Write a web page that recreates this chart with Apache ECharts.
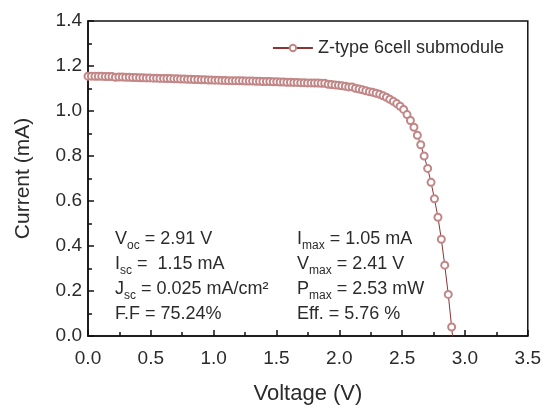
<!DOCTYPE html>
<html>
<head>
<meta charset="utf-8">
<script src="https://cdn.jsdelivr.net/npm/echarts@6/dist/echarts.min.js"></script>
<style>
  html, body { margin: 0; padding: 0; background: #fff; }
  #chart { width: 544px; height: 410px; }
</style>
</head>
<body>
<div id="chart"></div>
<script>
// measured I-V points (voltage in V, current in mA)
const voltage = [
  0.000, 0.027, 0.055, 0.082, 0.109, 0.137, 0.164, 0.191, 0.218, 0.246,
  0.273, 0.300, 0.328, 0.355, 0.382, 0.410, 0.437, 0.464, 0.491, 0.519,
  0.546, 0.573, 0.601, 0.628, 0.655, 0.683, 0.710, 0.737, 0.764, 0.792,
  0.819, 0.846, 0.874, 0.901, 0.928, 0.956, 0.983, 1.010, 1.037, 1.065,
  1.092, 1.119, 1.147, 1.174, 1.201, 1.229, 1.256, 1.283, 1.310, 1.338,
  1.365, 1.392, 1.420, 1.447, 1.474, 1.502, 1.529, 1.556, 1.583, 1.611,
  1.638, 1.665, 1.693, 1.720, 1.747, 1.775, 1.802, 1.829, 1.856, 1.884,
  1.911, 1.938, 1.966, 1.993, 2.020, 2.048, 2.075, 2.102, 2.129, 2.157,
  2.184, 2.211, 2.239, 2.266, 2.293, 2.321, 2.348, 2.375, 2.402, 2.430,
  2.457, 2.484, 2.512, 2.539, 2.566, 2.594, 2.621, 2.648, 2.675, 2.703,
  2.730, 2.757, 2.785, 2.812, 2.839, 2.867, 2.894, 2.921
];
const current = [
  1.155, 1.155, 1.154, 1.154, 1.154, 1.153, 1.153, 1.153, 1.150, 1.151,
  1.151, 1.150, 1.150, 1.149, 1.149, 1.148, 1.148, 1.147, 1.147, 1.146,
  1.146, 1.145, 1.145, 1.144, 1.144, 1.143, 1.143, 1.142, 1.142, 1.141,
  1.141, 1.140, 1.140, 1.139, 1.139, 1.138, 1.138, 1.137, 1.137, 1.136,
  1.136, 1.135, 1.135, 1.135, 1.134, 1.134, 1.133, 1.133, 1.133, 1.132,
  1.132, 1.131, 1.131, 1.131, 1.130, 1.130, 1.129, 1.129, 1.128, 1.128,
  1.127, 1.127, 1.126, 1.126, 1.125, 1.125, 1.124, 1.124, 1.123, 1.123,
  1.119, 1.118, 1.116, 1.114, 1.112, 1.110, 1.107, 1.107, 1.101, 1.098,
  1.094, 1.090, 1.086, 1.083, 1.079, 1.074, 1.068, 1.061, 1.052, 1.043,
  1.033, 1.021, 1.007, 0.984, 0.958, 0.928, 0.892, 0.850, 0.800, 0.745,
  0.683, 0.610, 0.528, 0.430, 0.315, 0.185, 0.040, -0.110
];
const seriesName = 'Z-type 6cell submodule';

// parameter text, left and right columns
const leftNotes = [
  ['V', 'oc', ' = 2.91 V'],
  ['I', 'sc', ' =  1.15 mA'],
  ['J', 'sc', ' = 0.025 mA/cm²'],
  ['F.F = 75.24%', '', '']
];
const rightNotes = [
  ['I', 'max', ' = 1.05 mA'],
  ['V', 'max', ' = 2.41 V'],
  ['P', 'max', ' = 2.53 mW'],
  ['Eff. = 5.76 %', '', '']
];

const FONT = 'Liberation Sans, Arial, sans-serif';
const TXT = '#2b2b2b';

const noteText = (n) => '{n|' + n[0] + '}' + (n[1] ? '{s|' + n[1] + '}' : '') + (n[2] ? '{n|' + n[2] + '}' : '');
const noteRows = [242, 267, 292, 317];
const notes = [];
leftNotes.forEach((n, i) => notes.push({ x: 115, y: noteRows[i], n }));
rightNotes.forEach((n, i) => notes.push({ x: 297, y: noteRows[i], n }));

const chart = echarts.init(document.getElementById('chart'));
chart.setOption({
  animation: false,
  textStyle: { fontFamily: FONT },
  grid: { left: 88, right: 15, top: 21, bottom: 68, show: true, borderColor: '#111', borderWidth: 1.5 },
  legend: {
    top: 34, right: 35,
    itemWidth: 40, itemHeight: 8, itemGap: 6,
    textStyle: { fontFamily: FONT, fontSize: 18, color: TXT },
    data: [seriesName]
  },
  xAxis: {
    type: 'value', min: 0, max: 3.5, interval: 0.5,
    name: 'Voltage (V)', nameLocation: 'middle', nameGap: 47,
    nameTextStyle: { fontFamily: FONT, fontSize: 22, color: TXT },
    axisLine: { lineStyle: { color: '#111', width: 1.5 } },
    axisTick: { inside: true, length: 6, lineStyle: { color: '#111', width: 1.5 } },
    minorTick: { show: true, splitNumber: 2, length: 4, lineStyle: { color: '#111', width: 1.5 } },
    axisLabel: { fontSize: 19, color: TXT, margin: 13, formatter: v => v.toFixed(1) },
    splitLine: { show: false }
  },
  yAxis: {
    type: 'value', min: 0, max: 1.4, interval: 0.2,
    name: 'Current (mA)', nameLocation: 'middle', nameGap: 54,
    nameTextStyle: { fontFamily: FONT, fontSize: 21, color: TXT },
    axisLine: { show: true, lineStyle: { color: '#111', width: 1.5 } },
    axisTick: { show: true, inside: true, length: 6, lineStyle: { color: '#111', width: 1.5 } },
    minorTick: { show: true, splitNumber: 2, length: 4, lineStyle: { color: '#111', width: 1.5 } },
    axisLabel: { fontSize: 19, color: TXT, margin: 6, formatter: v => v.toFixed(1) },
    splitLine: { show: false }
  },
  series: [{
    name: seriesName,
    type: 'line',
    data: voltage.map((v, i) => [v, current[i]]),
    symbol: 'emptyCircle',
    symbolSize: 7,
    showAllSymbol: true,
    clip: true,
    z: 1,
    lineStyle: { color: '#8a3434', width: 1 },
    itemStyle: { color: '#c28686', borderWidth: 1.1 }
  }],
  graphic: notes.map(o => ({
    type: 'text', left: o.x, top: o.y - 12,
    style: {
      text: noteText(o.n),
      rich: {
        n: { fontFamily: FONT, fontSize: 18, fill: TXT, color: TXT, lineHeight: 22, verticalAlign: 'bottom' },
        s: { fontFamily: FONT, fontSize: 12, fill: TXT, color: TXT, lineHeight: 12, verticalAlign: 'bottom', padding: [0, 0, -4, 0] }
      }
    }
  }))
});
</script>
</body>
</html>
